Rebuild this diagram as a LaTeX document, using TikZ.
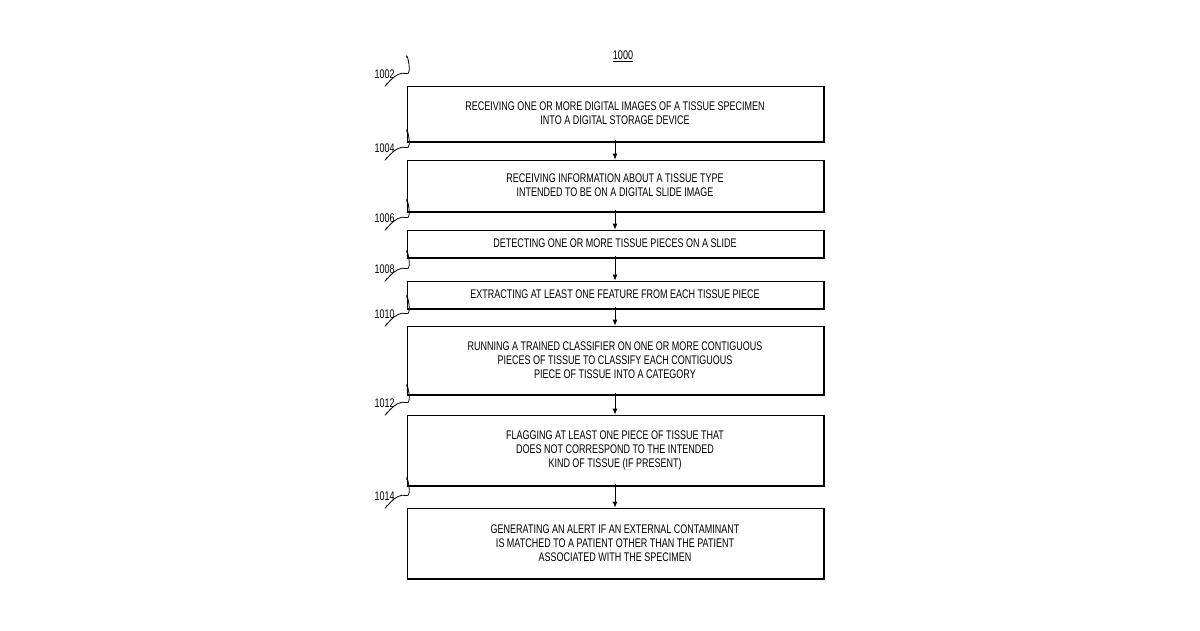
\documentclass[tikz,border=0pt]{standalone}
\usepackage{fontspec}
\setmainfont{Liberation Sans}[FakeStretch=0.72]
\begin{document}
\begin{tikzpicture}[x=1pt,y=-1pt,
  box/.style={draw,line width=0.8pt,minimum width=416pt,align=center,font=\fontsize{12.5}{14}\selectfont,inner sep=0pt,
    path picture={}},
  lbl/.style={font=\fontsize{12.5}{14}\selectfont,anchor=south},
  arr/.style={-{Latex[length=6pt,width=5pt]},line width=0.8pt}]
\usetikzlibrary{arrows.meta}
\useasboundingbox (0,0) rectangle (1200,630);
\node[font=\fontsize{12.5}{14}\selectfont] (t) at (623,56) {\underline{1000}};
\def\bx#1#2#3#4{%
  \node[box,minimum height=#3-#2pt] (#1) at (615,{(#2+#3)/2}) {#4};
  \draw[line width=1.6pt] ([xshift=0.8pt]#1.north east) -- ([xshift=0.8pt,yshift=-0.8pt]#1.south east) -- ([yshift=-0.8pt]#1.south west);}
\bx{b1}{86}{141}{RECEIVING ONE OR MORE DIGITAL IMAGES OF A TISSUE SPECIMEN\\INTO A DIGITAL STORAGE DEVICE}
\bx{b2}{160}{211}{RECEIVING INFORMATION ABOUT A TISSUE TYPE\\INTENDED TO BE ON A DIGITAL SLIDE IMAGE}
\bx{b3}{230}{257}{DETECTING ONE OR MORE TISSUE PIECES ON A SLIDE}
\bx{b4}{281}{308}{EXTRACTING AT LEAST ONE FEATURE FROM EACH TISSUE PIECE}
\bx{b5}{326}{394}{RUNNING A TRAINED CLASSIFIER ON ONE OR MORE CONTIGUOUS\\PIECES OF TISSUE TO CLASSIFY EACH CONTIGUOUS\\PIECE OF TISSUE INTO A CATEGORY}
\bx{b6}{415}{485}{FLAGGING AT LEAST ONE PIECE OF TISSUE THAT\\DOES NOT CORRESPOND TO THE INTENDED\\KIND OF TISSUE (IF PRESENT)}
\bx{b7}{508}{578}{GENERATING AN ALERT IF AN EXTERNAL CONTAMINANT\\IS MATCHED TO A PATIENT OTHER THAN THE PATIENT\\ASSOCIATED WITH THE SPECIMEN}
\foreach \a/\b in {b1/b2,b2/b3,b3/b4,b4/b5,b5/b6,b6/b7}
  \draw[arr] ([yshift=1pt]\a.south) -- (\b.north);
\foreach \b/\n in {b1/1002,b2/1004,b3/1006,b4/1008,b5/1010,b6/1012,b7/1014}{
  \node[lbl] (l\b) at ([xshift=-22pt,yshift=3pt]\b.north west) {\n};
  \draw[line width=0.8pt] ([xshift=2pt,yshift=-1pt]l\b.south) .. controls +(-4,8) and +(-12,-4) .. ([yshift=12pt]\b.north west) .. controls +(6,2) and +(0,-8) .. ([yshift=28pt]\b.north west);}
\end{tikzpicture}
\end{document}
